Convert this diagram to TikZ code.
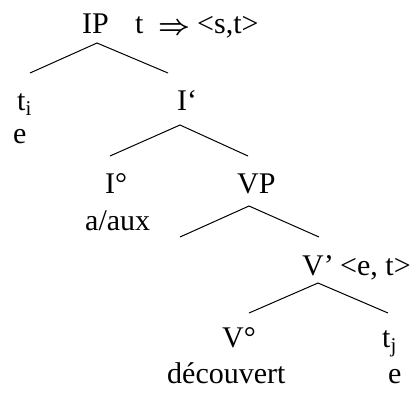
\documentclass[tikz,border=0pt]{standalone}
\usepackage{graphicx}
\usepackage{fontspec}
\setmainfont{Liberation Serif}
\begin{document}
\begin{tikzpicture}[x=1pt,y=-1pt,
  lab/.style={inner sep=0pt, anchor=base west, font=\fontsize{30}{36}\selectfont},
  br/.style={line width=1pt}]
\useasboundingbox (0,0) rectangle (414,392);
% labels
\node[lab] (IP) at (82,33) {IP};
\node[lab] (IPt) at (135,33) {t};
\node[lab] (arr) at (158,34) {\resizebox{32pt}{!}{\boldmath$\Rightarrow$}};
\node[lab] (IPtype) at (197,33) {<s,t>};
\node[lab] (ti) at (17,110) {t\textsubscript{i}};
\node[lab] (e1) at (13,143) {e};
\node[lab] (Ibar) at (177,110) {I‘};
\node[lab] (I0) at (105,193) {I°};
\node[lab] (aux) at (85,230) {a/aux};
\node[lab] (VP) at (237,193) {VP};
\node[lab] (Vbar) at (302,275) {V’};
\node[lab] (Vtype) at (340,275) {<e, t>};
\node[lab] (V0) at (222,347) {V°};
\node[lab] (dec) at (167,383) {découvert};
\node[lab] (tj) at (382,347) {t\textsubscript{j}};
\node[lab] (e2) at (388,383) {e};
% branch points
\coordinate (a1) at (97,43);  \coordinate (l1) at (30,73);  \coordinate (r1) at (168,73);
\coordinate (a2) at (180,125); \coordinate (l2) at (110,156); \coordinate (r2) at (248,156);
\coordinate (a3) at (249,206); \coordinate (l3) at (180,237); \coordinate (r3) at (319,237);
\coordinate (a4) at (318,283); \coordinate (l4) at (249,313); \coordinate (r4) at (388,313);
\draw[br] (l1) -- (a1) -- (r1);
\draw[br] (l2) -- (a2) -- (r2);
\draw[br] (l3) -- (a3) -- (r3);
\draw[br] (l4) -- (a4) -- (r4);
\end{tikzpicture}
\end{document}
